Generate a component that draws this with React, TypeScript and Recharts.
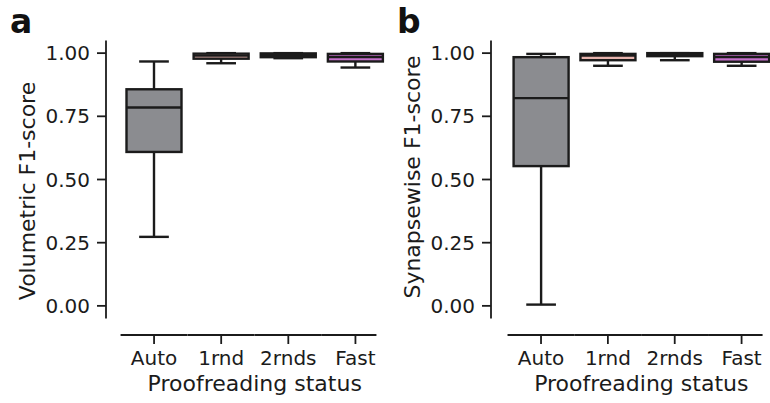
import { ComposedChart, Bar, XAxis, YAxis } from 'recharts'

const categories = ['Auto', '1rnd', '2rnds', 'Fast']
const boxFills = ['#8b8c90', '#e7b3ad', '#b9cdb3', '#c46fca']
const yTicks = [0, 0.25, 0.5, 0.75, 1]

// panel a: volumetric F1-score
const volLow = [0.273, 0.96, 0.98, 0.943]
const volQ1 = [0.609, 0.978, 0.984, 0.967]
const volMedian = [0.785, 0.99, 0.993, 0.985]
const volQ3 = [0.857, 0.998, 0.999, 0.997]
const volHigh = [0.967, 1.0, 1.0, 1.0]

// panel b: synapsewise F1-score
const synLow = [0.005, 0.95, 0.972, 0.95]
const synQ1 = [0.553, 0.972, 0.988, 0.966]
const synMedian = [0.822, 0.99, 0.995, 0.985]
const synQ3 = [0.984, 0.997, 1.0, 0.997]
const synHigh = [0.997, 1.0, 1.0, 1.0]

const FONT = "'DejaVu Sans', sans-serif"
const INK = '#1b1b1b'

function buildRows(low: number[], q1: number[], med: number[], q3: number[], high: number[]) {
  return categories.map((status, i) => ({
    status,
    range: [low[i], high[i]],
    q1: q1[i],
    median: med[i],
    q3: q3[i],
    fill: boxFills[i]
  }))
}

const volRows = buildRows(volLow, volQ1, volMedian, volQ3, volHigh)
const synRows = buildRows(synLow, synQ1, synMedian, synQ3, synHigh)

const BoxShape = (props: any) => {
  const { x, y, width, height, payload } = props
  const [lo, hi] = payload.range
  const k = hi > lo ? height / (hi - lo) : 0
  const py = (v: number) => y + (hi - v) * k
  const cx = x + width / 2
  const cap = width * 0.27
  const sw = 2.4
  return (
    <g>
      <line x1={cx} x2={cx} y1={py(hi)} y2={py(lo)} stroke={INK} strokeWidth={sw} />
      <line x1={cx - cap} x2={cx + cap} y1={py(hi)} y2={py(hi)} stroke={INK} strokeWidth={sw} />
      <line x1={cx - cap} x2={cx + cap} y1={py(lo)} y2={py(lo)} stroke={INK} strokeWidth={sw} />
      <rect
        x={x}
        y={py(payload.q3)}
        width={width}
        height={py(payload.q1) - py(payload.q3)}
        fill={payload.fill}
        stroke={INK}
        strokeWidth={sw}
      />
      <line x1={x} x2={x + width} y1={py(payload.median)} y2={py(payload.median)} stroke={INK} strokeWidth={sw} />
    </g>
  )
}

const XTick = (props: any) => {
  const { x, y, payload, index, visibleTicksCount } = props
  const last = index === visibleTicksCount - 1
  const lineY = y + 16.5
  return (
    <g>
      <line x1={x - 33.5} x2={last ? x + 21 : x + 33.5} y1={lineY} y2={lineY} stroke={INK} strokeWidth={1.8} />
      <line x1={x} x2={x} y1={lineY} y2={lineY + 9} stroke={INK} strokeWidth={1.8} />
      <text x={x} y={y + 46.5} textAnchor="middle" fontSize={20} fontFamily={FONT} fill={INK}>
        {payload.value}
      </text>
    </g>
  )
}

interface PanelProps {
  rows: typeof volRows
  width: number
  padLeft: number
  yTitle: string
  yTitleCenter: number
}

function Panel({ rows, width, padLeft, yTitle, yTitleCenter }: PanelProps) {
  const xTitle = (p: any) => {
    const vb = p.viewBox
    const cx = vb.x + padLeft + (vb.width - padLeft) / 2
    return (
      <text x={cx} y={vb.y + 72.5} textAnchor="middle" fontSize={22} fontFamily={FONT} fill={INK}>
        Proofreading status
      </text>
    )
  }
  const yTitleFn = () => (
    <text
      x={27.5}
      y={yTitleCenter}
      transform={`rotate(-90, 27.5, ${yTitleCenter})`}
      textAnchor="middle"
      dominantBaseline="central"
      fontSize={22}
      fontFamily={FONT}
      fill={INK}
    >
      {yTitle}
    </text>
  )
  return (
    <ComposedChart width={width} height={403} data={rows} margin={{ top: 40.5, right: 0, left: 0, bottom: 0 }}>
      <XAxis
        dataKey="status"
        height={84.5}
        padding={{ left: padLeft, right: 0 }}
        axisLine={false}
        tickLine={false}
        tickSize={0}
        tickMargin={0}
        interval={0}
        tick={<XTick />}
        label={xTitle}
      />
      <YAxis
        width={106}
        type="number"
        domain={[-0.05, 1.05]}
        ticks={yTicks}
        tickFormatter={(v: number) => v.toFixed(2)}
        tickSize={9}
        tickMargin={7}
        axisLine={{ stroke: INK, strokeWidth: 1.8 }}
        tickLine={{ stroke: INK, strokeWidth: 1.8 }}
        tick={{ fill: INK, fontSize: 20, fontFamily: FONT }}
        label={yTitleFn}
      />
      <Bar dataKey="range" barSize={55} shape={<BoxShape />} isAnimationActive={false} />
    </ComposedChart>
  )
}

export default function App() {
  return (
    <div style={{ position: 'absolute', left: 0, top: 0, width: 770, height: 403, overflow: 'hidden', background: '#fff' }}>
      <div style={{ position: 'absolute', left: 0, top: 0 }}>
        <Panel rows={volRows} width={389} padLeft={14.5} yTitle="Volumetric F1-score" yTitleCenter={191} />
      </div>
      <div style={{ position: 'absolute', left: 385, top: 0 }}>
        <Panel rows={synRows} width={390} padLeft={16.6} yTitle="Synapsewise F1-score" yTitleCenter={177} />
      </div>
      <svg width={770} height={50} style={{ position: 'absolute', left: 0, top: 0, pointerEvents: 'none' }}>
        <text x={10} y={33} fontSize={33} fontWeight="bold" fontFamily={FONT} fill="#111">a</text>
        <text x={397} y={33} fontSize={33} fontWeight="bold" fontFamily={FONT} fill="#111">b</text>
      </svg>
    </div>
  )
}
